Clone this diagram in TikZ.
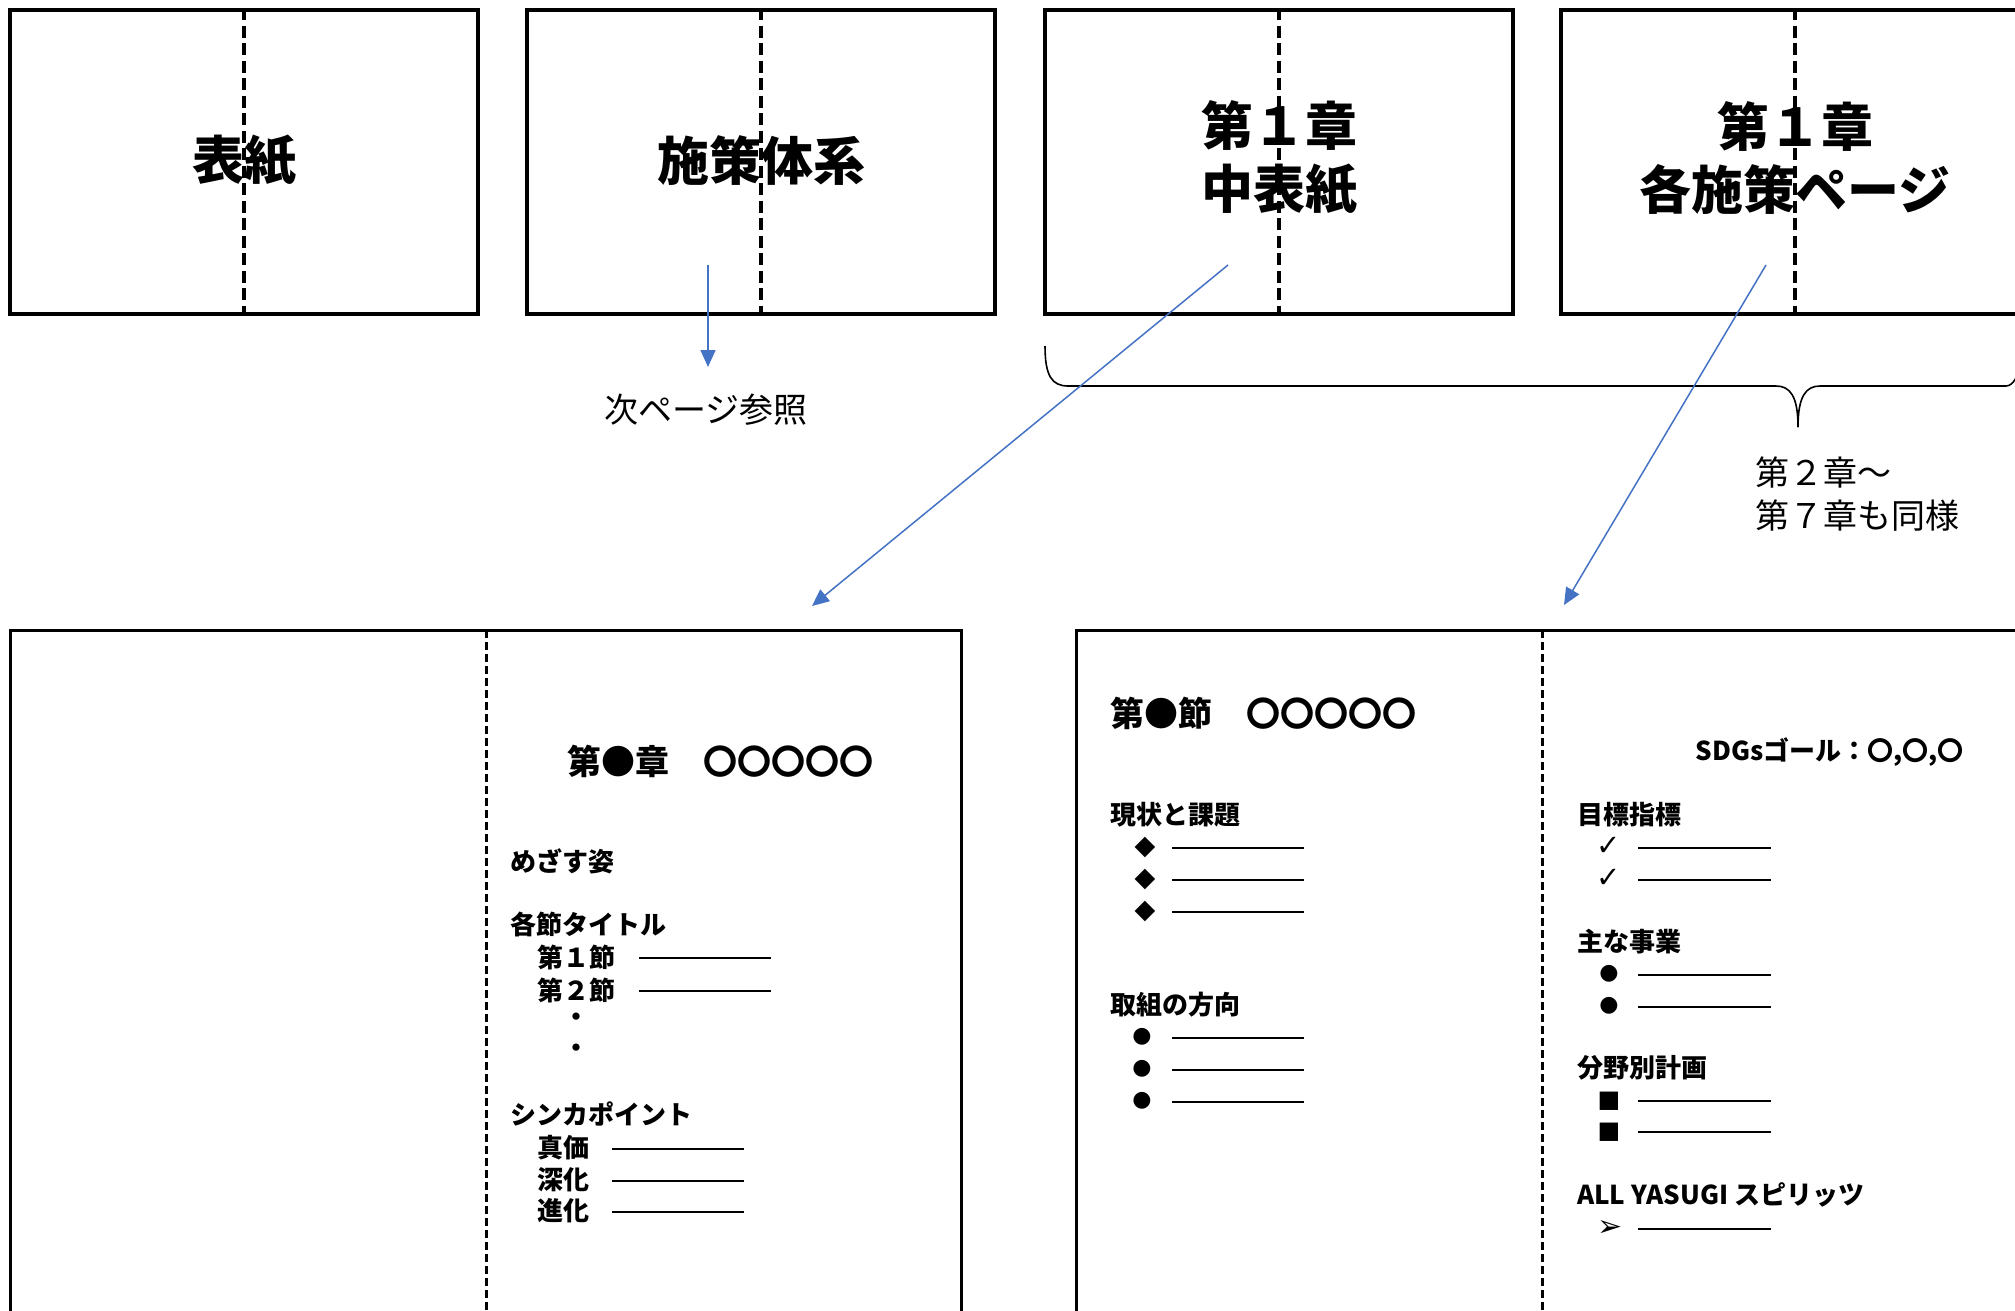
\documentclass[tikz,border=0pt]{standalone}
\usepackage{fontspec}
\newfontfamily\jp{Noto Sans CJK JP}
\newfontfamily\symf{DejaVu Sans}
\usetikzlibrary{arrows.meta}
\definecolor{arrowblue}{HTML}{4472C4}
\begin{document}
\begin{tikzpicture}[x=1pt,y=-1pt,
  topbox/.style={draw, line width=4pt, minimum width=468pt, minimum height=304pt, inner sep=0pt},
  fold/.style={line width=4pt, dash pattern=on 12pt off 5.5pt},
  pagebox/.style={draw, line width=3pt, inner sep=0pt},
  pagefold/.style={line width=3pt, dash pattern=on 7.5pt off 4.5pt},
  ttl/.style={font=\jp\bfseries\fontsize{52}{63}\selectfont, align=center, inner sep=0pt},
  lbl/.style={font=\jp\fontsize{34}{42}\selectfont, inner sep=0pt},
  hd/.style={font=\jp\bfseries\fontsize{26}{30}\selectfont, anchor=west, inner sep=0pt},
  big/.style={font=\jp\bfseries\fontsize{34}{38}\selectfont, anchor=west, inner sep=0pt},
  blank/.style={line width=1.8pt},
  sy/.style={font=\symf\fontsize{22}{26}\selectfont, inner sep=0pt},
  conn/.style={draw=arrowblue, line width=1.5pt, -{Triangle[length=17pt,width=15pt]}},
  brace/.style={draw, line width=1.6pt}
]
\useasboundingbox (0,0) rectangle (2015,1310);
\clip (0,0) rectangle (2015,1310);

% ---------- top boxes ----------
\node[topbox] (cover) at (244,162) {};
\node[topbox] (system) at (761,162) {};
\node[topbox] (chcover) at (1279,162) {};
\node[topbox] (chpage) at (1795,162) {};
\foreach \b in {cover,system,chcover,chpage}
  \draw[fold] (\b.north) -- (\b.south);

\node[ttl] (t1) at (244,161) {表紙};
\node[ttl] (t2) at (761,161) {施策体系};
\node[ttl] (t3) at (1279,158) {第１章\\中表紙};
\node[ttl] (t4) at (1795,158) {第１章\\各施策ページ};

% ---------- arrow to next page ----------
\coordinate (a1s) at (708,265);
\coordinate (a1e) at (708,367);
\draw[conn] (a1s) -- (a1e);
\node[lbl] (next) at (706,410) {次ページ参照};

% ---------- brace ----------
\coordinate (bl) at (1045,346);
\coordinate (btip) at (1798,427);
\draw[brace] (bl) .. controls (1045,376) and (1052,386) .. (1068,386)
  -- (1776,386) .. controls (1790,386) and (1798,396) .. (btip);
\draw[brace] (btip) .. controls (1798,396) and (1806,386) .. (1820,386)
  -- (2006,386) .. controls (2010,386) and (2013,383) .. (2016,378);
\node[lbl, anchor=north west, align=left, font=\jp\fontsize{34}{43}\selectfont] (same) at (1755,457) {第２章～\\第７章も同様};

% ---------- bottom pages ----------
\node[pagebox, minimum width=951pt, minimum height=700pt] (lpage) at (485.5,980) {};
\node[pagebox, minimum width=954pt, minimum height=700pt] (rpage) at (1553,980) {};
\draw[pagefold] (486,630) -- (486,1330);
\draw[pagefold] (1542,630) -- (1542,1330);

% ---------- connectors ----------
\coordinate (a2s) at (1228,265);
\coordinate (a2e) at (812,606);
\draw[conn] (a2s) -- (a2e);
\coordinate (a3s) at (1766,265);
\coordinate (a3e) at (1564,605);
\draw[conn] (a3s) -- (a3e);

% ---------- left page content ----------
\node[big] (lt) at (567,761) {第●章　〇〇〇〇〇};
\node[hd] (goal) at (510,861) {めざす姿};
\node[hd] (sec) at (510,924) {各節タイトル};
\node[hd] (s1) at (537,957) {第１節};
\node[hd] (s2) at (537,990) {第２節};
\draw[blank] (639,958) -- (771,958);
\draw[blank] (639,991) -- (771,991);
\node[hd] (d1) at (563,1020) {・};
\node[hd] (d2) at (563,1051) {・};
\node[hd] (shinka) at (510,1114) {シンカポイント};
\node[hd] (k1) at (537,1148) {真価};
\node[hd] (k2) at (537,1180) {深化};
\node[hd] (k3) at (537,1211) {進化};
\foreach \y in {1149,1181,1212}
  \draw[blank] (612,\y) -- (744,\y);

% ---------- right page, left half ----------
\node[big] (rt) at (1110,713) {第●節　〇〇〇〇〇};
\node[hd] (gen) at (1110,815) {現状と課題};
\foreach \y/\n in {847/da,879/db,911/dc}{
  \node[sy, font=\symf\fontsize{27}{30}\selectfont] (\n) at (1145,\y) {◆};
  \draw[blank] (1172,\y+1) -- (1304,\y+1);
}
\node[hd] (tori) at (1110,1005) {取組の方向};
\foreach \y/\n in {1037/ba,1069/bb,1101/bc}{
  \node[sy] (\n) at (1142,\y) {●};
  \draw[blank] (1172,\y+1) -- (1304,\y+1);
}

% ---------- right page, right half ----------
\node[hd, anchor=east] (sdg) at (1964,752) {SDGsゴール：〇,〇,〇};
\node[hd] (mok) at (1577,815) {目標指標};
\foreach \y/\n in {846/ca,878/cb}{
  \node[sy, font=\symf\fontsize{29}{32}\selectfont] (\n) at (1609,\y) {✓};
  \draw[blank] (1638,\y+2) -- (1771,\y+2);
}
\node[hd] (omo) at (1577,942) {主な事業};
\foreach \y/\n in {974/ea,1006/eb}{
  \node[sy] (\n) at (1609,\y) {●};
  \draw[blank] (1638,\y+1) -- (1771,\y+1);
}
\node[hd] (bun) at (1577,1068) {分野別計画};
\foreach \y/\n in {1101/fa,1132/fb}{
  \node[sy, font=\symf\fontsize{24}{28}\selectfont] (\n) at (1609,\y) {■};
  \draw[blank] (1638,\y) -- (1771,\y);
}
\node[hd] (all) at (1577,1195) {ALL YASUGI スピリッツ};
\node[sy, font=\symf\fontsize{30}{34}\selectfont] (ga) at (1610,1228) {➢};
\draw[blank] (1638,1229) -- (1771,1229);
\end{tikzpicture}
\end{document}
